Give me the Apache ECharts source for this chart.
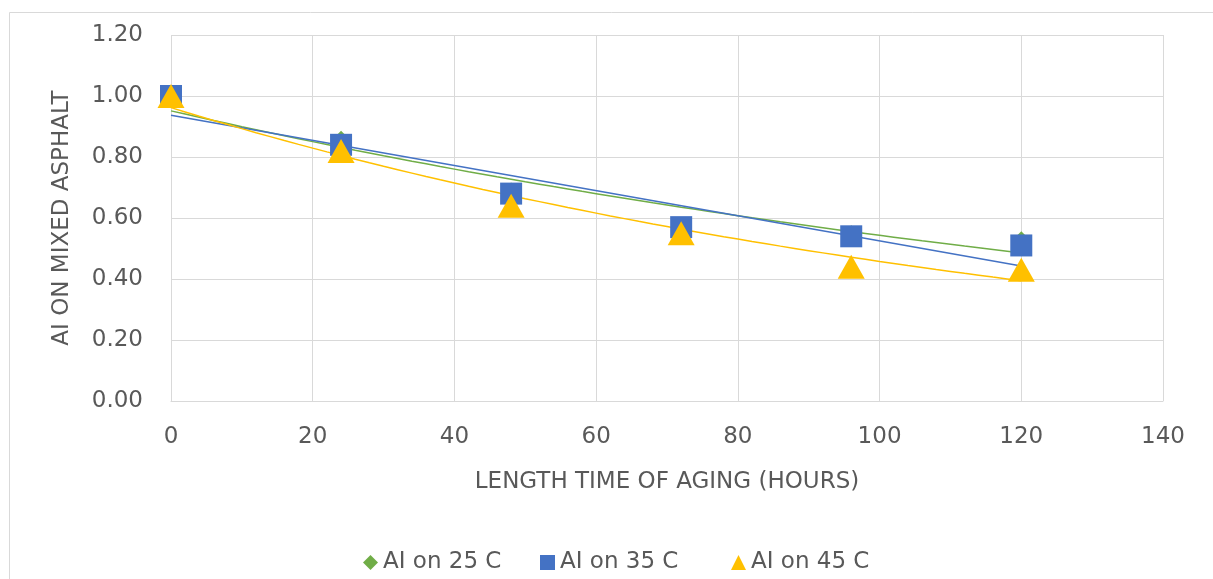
<!DOCTYPE html>
<html>
<head>
<meta charset="utf-8">
<script src="https://cdn.jsdelivr.net/npm/echarts@6/dist/echarts.min.js"></script>
<style>
html,body{margin:0;padding:0;background:#fff;}
#chart{width:1213px;height:579px;}
</style>
</head>
<body>
<div id="chart"></div>
<script>
// Data
const hours = [0, 24, 48, 72, 96, 120];
const ai25 = [1.00, 0.86, 0.69, 0.57, 0.55, 0.53];
const ai35 = [1.00, 0.84, 0.68, 0.57, 0.54, 0.51];
const ai45 = [1.00, 0.82, 0.64, 0.55, 0.44, 0.43];
const seriesNames = ['AI on 25 C', 'AI on 35 C', 'AI on 45 C'];
const xAxisTitle = 'LENGTH TIME OF AGING (HOURS)';
const yAxisTitle = 'AI ON MIXED ASPHALT';

// Trendlines (as in the source spreadsheet): 25 C and 45 C exponential, 35 C linear
function linearFit(xs, ys) {
  const n = xs.length;
  const mx = xs.reduce((a, b) => a + b, 0) / n;
  const my = ys.reduce((a, b) => a + b, 0) / n;
  let sxy = 0, sxx = 0;
  for (let i = 0; i < n; i++) { sxy += (xs[i] - mx) * (ys[i] - my); sxx += (xs[i] - mx) ** 2; }
  const b = sxy / sxx;
  return { a: my - b * mx, b };
}
function linearTrend(xs, ys) {
  const f = linearFit(xs, ys);
  const x0 = xs[0], x1 = xs[xs.length - 1];
  return [[x0, f.a + f.b * x0], [x1, f.a + f.b * x1]];
}
function expTrend(xs, ys) {
  const f = linearFit(xs, ys.map(Math.log));
  const out = [];
  const x0 = xs[0], x1 = xs[xs.length - 1];
  for (let x = x0; x <= x1; x += 2) out.push([x, Math.exp(f.a + f.b * x)]);
  return out;
}
const pairs = (ys) => hours.map((h, i) => [h, ys[i]]);

const green = '#70AD47', blue = '#4472C4', gold = '#FFC000';
const txt = '#595959';
const font = 'DejaVu Sans';
const fs = 23;

const legendLefts = [358, 535, 726];
const legends = seriesNames.map((n, i) => ({
  data: [n],
  bottom: 0,
  left: legendLefts[i],
  itemWidth: 15, itemHeight: 15,
  textStyle: { fontSize: fs, color: txt, fontFamily: font }
}));

const chart = echarts.init(document.getElementById('chart'));
chart.setOption({
  animation: false,
  backgroundColor: '#fff',
  textStyle: { fontFamily: font },
  graphic: [{
    type: 'rect', left: 7, top: 10, shape: { width: 1300, height: 700 },
    style: { fill: 'none', stroke: '#d9d9d9', lineWidth: 1 }, silent: true
  }],
  grid: { left: 171, right: 50, top: 35, bottom: 178 },
  legend: legends,
  xAxis: {
    type: 'value', min: 0, max: 140, interval: 20,
    name: xAxisTitle, nameLocation: 'middle', nameGap: 70,
    nameTextStyle: { fontSize: fs, color: txt },
    axisLine: { show: true, lineStyle: { color: '#d9d9d9' } },
    axisTick: { show: false },
    axisLabel: { fontSize: fs, color: txt, margin: 25 },
    splitLine: { show: true, lineStyle: { color: '#d9d9d9' } }
  },
  yAxis: {
    type: 'value', min: 0, max: 1.2, interval: 0.2,
    name: yAxisTitle, nameLocation: 'middle', nameGap: 97, nameRotate: 90,
    nameTextStyle: { fontSize: fs, color: txt },
    axisLine: { show: false },
    axisTick: { show: false },
    axisLabel: { fontSize: fs, color: txt, margin: 28, formatter: v => v.toFixed(2) },
    splitLine: { show: true, lineStyle: { color: '#d9d9d9' } }
  },
  series: [
    { name: 'trend25', type: 'line', data: expTrend(hours, ai25), showSymbol: false,
      lineStyle: { color: green, width: 1.5 }, z: 2, silent: true },
    { name: 'trend35', type: 'line', data: linearTrend(hours, ai35), showSymbol: false,
      lineStyle: { color: blue, width: 1.5 }, z: 2, silent: true },
    { name: 'trend45', type: 'line', data: expTrend(hours, ai45), showSymbol: false,
      lineStyle: { color: gold, width: 1.5 }, z: 2, silent: true },
    { name: seriesNames[0], type: 'scatter', data: pairs(ai25), symbol: 'diamond', symbolSize: 16,
      itemStyle: { color: green, opacity: 1 }, z: 3 },
    { name: seriesNames[1], type: 'scatter', data: pairs(ai35), symbol: 'rect', symbolSize: 22,
      itemStyle: { color: blue, opacity: 1, borderRadius: 2 }, z: 4 },
    { name: seriesNames[2], type: 'scatter', data: pairs(ai45), symbol: 'triangle', symbolSize: [27, 24],
      itemStyle: { color: gold, opacity: 1 }, z: 5 }
  ]
});
</script>
</body>
</html>
